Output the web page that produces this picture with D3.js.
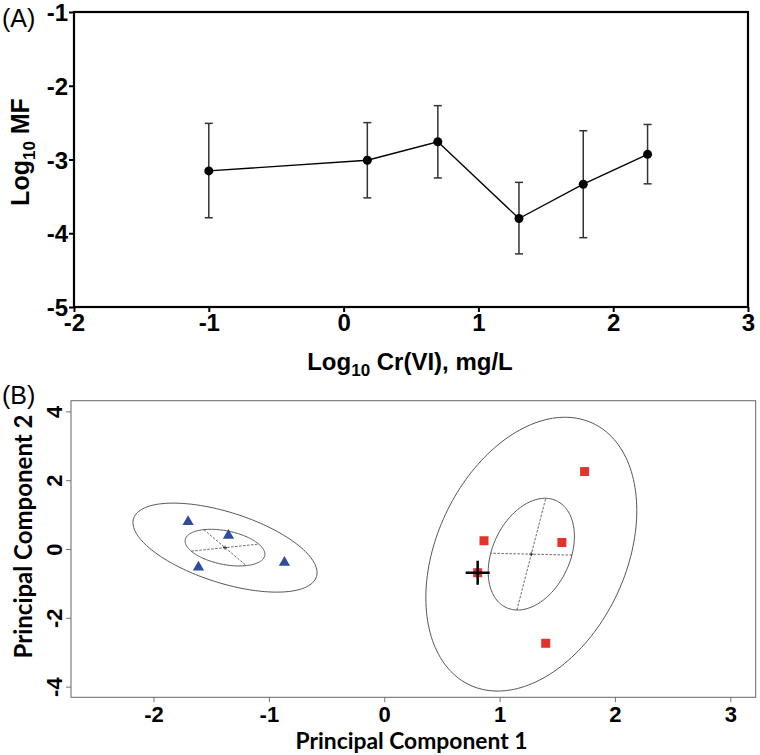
<!DOCTYPE html>
<html><head><meta charset="utf-8">
<script src="https://cdn.jsdelivr.net/npm/d3@7"></script>
<style>body{margin:0;background:#fff}svg{display:block}</style>
</head><body><svg id="c" width="760" height="755"></svg>
<script>
// ---------- Panel A data ----------
const crLog = [-1, 0.176, 0.699, 1.301, 1.778, 2.255];
const mfLog = [-3.155, -3.01, -2.76, -3.80, -3.335, -2.93];
const mfUpper = [-2.51, -2.50, -2.27, -3.31, -2.61, -2.525];
const mfLower = [-3.79, -3.52, -3.25, -4.28, -4.06, -3.33];
const xTicksA = [-2, -1, 0, 1, 2, 3];
const yTicksA = [-1, -2, -3, -4, -5];

// ---------- Panel B data ----------
const groupA_pc1 = [-1.70, -1.35, -1.61, -0.865];
const groupA_pc2 = [0.79, 0.39, -0.53, -0.39];
const groupB_pc1 = [1.737, 0.865, 1.54, 0.81, 1.40];
const groupB_pc2 = [2.25, 0.24, 0.19, -0.69, -2.74];
const markedPC = [0.81, -0.69];
// ellipses (data units): centre, semi-axes, rotation in data space
const ellCx = [-1.38, -1.38, 1.275, 1.275];
const ellCy = [0.04, 0.04, -0.15, -0.15];
const ellA = [0.554, 1.39, 1.628, 3.99];
const ellB = [0.31, 0.614, 0.353, 0.864];
const ellAngle = [-70.6, -65.9, 85.6, 85.6];
const ellShowAxes = [true, false, true, false];
const xTicksB = [-2, -1, 0, 1, 2, 3];
const yTicksB = [4, 2, 0, -2, -4];

const svg = d3.select("#c");
const ARIAL = "'Liberation Sans', Arial, sans-serif";
const CAL = "Lato, 'Open Sans', sans-serif";
const fmt = d => String(d);

// ================= Panel A =================
const xA = d3.scaleLinear().domain([-2, 3]).range([74, 748]);
const yA = d3.scaleLinear().domain([-5, -1]).range([307, 12]);
const gA = svg.append("g");

const axA = gA.append("g").attr("transform", `translate(0,${yA(-5)})`)
  .call(d3.axisBottom(xA).tickValues(xTicksA).tickSize(5).tickSizeOuter(0).tickPadding(2).tickFormat(fmt));
const ayA = gA.append("g").attr("transform", `translate(${xA(-2)},0)`)
  .call(d3.axisLeft(yA).tickValues(yTicksA).tickSize(5).tickSizeOuter(0).tickPadding(1).tickFormat(fmt));
[axA, ayA].forEach(a => {
  a.select(".domain").remove();
  a.selectAll(".tick line").attr("stroke", "#000").attr("stroke-width", 2);
  a.selectAll(".tick text").attr("fill", "#000").style("font-family", ARIAL)
    .style("font-weight", "bold").style("font-size", "24px");
});
ayA.selectAll(".tick text").attr("dy", "0.36em");

gA.append("rect").attr("x", xA(-2)).attr("y", yA(-1))
  .attr("width", xA(3) - xA(-2)).attr("height", yA(-5) - yA(-1))
  .attr("fill", "none").attr("stroke", "#000").attr("stroke-width", 2.2);

// error bars
const ebA = gA.append("g").attr("stroke", "#333").attr("stroke-width", 1.5);
crLog.forEach((x, i) => {
  ebA.append("line").attr("x1", xA(x)).attr("x2", xA(x)).attr("y1", yA(mfUpper[i])).attr("y2", yA(mfLower[i]));
  [mfUpper[i], mfLower[i]].forEach(v => ebA.append("line")
    .attr("x1", xA(x) - 4).attr("x2", xA(x) + 4).attr("y1", yA(v)).attr("y2", yA(v)));
});
gA.append("path").datum(crLog.map((x, i) => [x, mfLog[i]]))
  .attr("d", d3.line().x(d => xA(d[0])).y(d => yA(d[1])))
  .attr("fill", "none").attr("stroke", "#000").attr("stroke-width", 1.3);
gA.selectAll("circle.pt").data(crLog).join("circle")
  .attr("cx", d => xA(d)).attr("cy", (d, i) => yA(mfLog[i])).attr("r", 4.5).attr("fill", "#000");

// labels
svg.append("text").attr("x", 2).attr("y", 27)
  .style("font-family", ARIAL).style("font-size", "25px").text("(A)");
const ylA = svg.append("text").attr("transform", "translate(29,152) rotate(-90)")
  .attr("text-anchor", "middle").style("font-family", ARIAL).style("font-weight", "bold").style("font-size", "25px");
ylA.append("tspan").text("Log");
ylA.append("tspan").attr("dy", 6).style("font-size", "17px").text("10");
ylA.append("tspan").attr("dy", -6).text(" MF");
const xlA = svg.append("text").attr("x", 410).attr("y", 370)
  .attr("text-anchor", "middle").style("font-family", ARIAL).style("font-weight", "bold").style("font-size", "24px");
xlA.append("tspan").text("Log");
xlA.append("tspan").attr("dy", 6).style("font-size", "17px").text("10");
xlA.append("tspan").attr("dy", -6).text(" Cr(VI), mg/L");

// ================= Panel B =================
const xB = d3.scaleLinear().domain([-2.715, 3.22]).range([71, 755.7]);
const yB = d3.scaleLinear().domain([-4.31, 4.31]).range([697.3, 400.7]);
const gB = svg.append("g");

const axB = gB.append("g").attr("transform", `translate(0,${yB(-4.31)})`)
  .call(d3.axisBottom(xB).tickValues(xTicksB).tickSize(5).tickSizeOuter(0).tickPadding(4).tickFormat(fmt));
const ayB = gB.append("g").attr("transform", `translate(${xB(-2.715)},0)`)
  .call(d3.axisLeft(yB).tickValues(yTicksB).tickSize(5).tickSizeOuter(0).tickFormat(fmt));
[axB, ayB].forEach(a => {
  a.select(".domain").remove();
  a.selectAll(".tick line").attr("stroke", "#777").attr("stroke-width", 1);
  a.selectAll(".tick text").attr("fill", "#000").style("font-family", ARIAL)
    .style("font-weight", "bold").style("font-size", "22px");
});
ayB.selectAll(".tick text").attr("x", null).attr("dy", null)
  .attr("text-anchor", "middle").attr("transform", "translate(-9,0) rotate(-90)");

gB.append("rect").attr("x", xB(-2.715)).attr("y", yB(4.31))
  .attr("width", xB(3.22) - xB(-2.715)).attr("height", yB(-4.31) - yB(4.31))
  .attr("fill", "none").attr("stroke", "#666").attr("stroke-width", 1);

// ellipses
const ellG = gB.append("g");
ellCx.forEach((cx, i) => {
  const th = ellAngle[i] * Math.PI / 180;
  const ux = Math.cos(th), uy = Math.sin(th), vx = -Math.sin(th), vy = Math.cos(th);
  const pts = d3.range(0, 181).map(k => {
    const t = k / 180 * 2 * Math.PI;
    return [cx + ellA[i] * Math.cos(t) * ux + ellB[i] * Math.sin(t) * vx,
            ellCy[i] + ellA[i] * Math.cos(t) * uy + ellB[i] * Math.sin(t) * vy];
  });
  ellG.append("path").datum(pts)
    .attr("d", d3.line().x(d => xB(d[0])).y(d => yB(d[1])).curve(d3.curveLinearClosed))
    .attr("fill", "none").attr("stroke", "#555").attr("stroke-width", 1);
  if (ellShowAxes[i]) {
    [[ellA[i] * ux, ellA[i] * uy], [ellB[i] * vx, ellB[i] * vy]].forEach(v => {
      ellG.append("line")
        .attr("x1", xB(cx - v[0])).attr("y1", yB(ellCy[i] - v[1]))
        .attr("x2", xB(cx + v[0])).attr("y2", yB(ellCy[i] + v[1]))
        .attr("stroke", "#444").attr("stroke-width", 0.8).attr("stroke-dasharray", "2.5,1.5");
    });
    const c = [xB(cx), yB(ellCy[i])];
    ellG.append("path").attr("d", `M${c[0]-2},${c[1]}H${c[0]+2}M${c[0]},${c[1]-2}V${c[1]+2}`)
      .attr("stroke", "#333").attr("stroke-width", 1);
  }
});

// points
gB.selectAll("path.tri").data(groupA_pc1).join("path").attr("class", "tri")
  .attr("d", d3.symbol(d3.symbolTriangle, 55))
  .attr("transform", (d, i) => `translate(${xB(d)},${yB(groupA_pc2[i])})`)
  .attr("fill", "#2f4c9c");
gB.selectAll("rect.sq").data(groupB_pc1).join("rect").attr("class", "sq")
  .attr("x", d => xB(d) - 4.5).attr("y", (d, i) => yB(groupB_pc2[i]) - 4.5)
  .attr("width", 9).attr("height", 9).attr("fill", "#e5322b");
// marked sample cross
const mx = xB(markedPC[0]), my = yB(markedPC[1]);
gB.append("path").attr("d", `M${mx-12},${my}H${mx+12}M${mx},${my-12}V${my+12}`)
  .attr("stroke", "#000").attr("stroke-width", 2.5);

// labels
svg.append("text").attr("x", 2).attr("y", 404)
  .style("font-family", ARIAL).style("font-size", "25px").text("(B)");
function fitText(sel, target) {
  const len = sel.node().getComputedTextLength();
  const fs = parseFloat(sel.style("font-size"));
  sel.style("font-size", (fs * target / len).toFixed(2) + "px");
}
const xlB = svg.append("text").attr("x", 411.5).attr("y", 749).attr("text-anchor", "middle")
  .style("font-family", CAL).style("font-weight", "bold").style("font-size", "20px").text("Principal Component 1");
fitText(xlB, 232);
const ylB = svg.append("text").attr("transform", "translate(32,536.5) rotate(-90)").attr("text-anchor", "middle")
  .style("font-family", CAL).style("font-weight", "bold").style("font-size", "20px").text("Principal Component 2");
fitText(ylB, 244);
</script></body></html>
